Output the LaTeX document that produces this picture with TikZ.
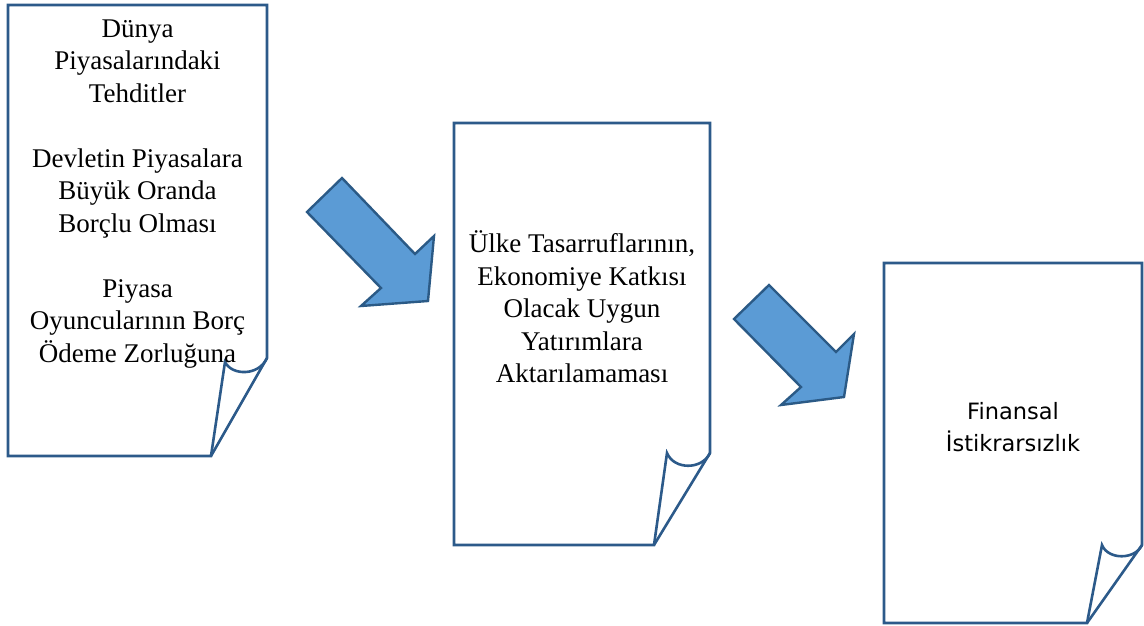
\documentclass[tikz,border=0pt]{standalone}
\usepackage{fontspec}
\setmainfont{Liberation Serif}
\newfontfamily\labelsans{DejaVu Sans}
\definecolor{pageline}{HTML}{2C5A8A}
\definecolor{arrowfill}{HTML}{5B9BD5}
\definecolor{arrowline}{HTML}{2B5A86}
\begin{document}
\begin{tikzpicture}[x=1pt,y=-1pt,
  page/.style={draw=pageline,line width=2.6pt,line join=miter,fill=white},
  blockarrow/.style={draw=arrowline,line width=2.4pt,line join=miter,fill=arrowfill},
  serifbody/.style={align=center,font=\fontsize{27}{32.5}\selectfont},
  sansbody/.style={align=center,font=\labelsans\fontsize{22.5}{32}\selectfont}]
\useasboundingbox (0,0) rectangle (1144,625);

% first sheet with curled lower corner
\draw[page] (8,5) -- (267,5) -- (267,358)
  .. controls (259,376) and (232,376) .. (225,362) -- (211,456) -- (8,456) -- cycle;
\draw[page] (267,358) -- (211,456);

% second sheet
\draw[page] (454,123) -- (710,123) -- (710,453)
  .. controls (702,470) and (674,470) .. (667,453) -- (654,545) -- (454,545) -- cycle;
\draw[page] (710,453) -- (654,545);

% third sheet
\draw[page] (884,263) -- (1142,263) -- (1142,545)
  .. controls (1135,560) and (1108,560) .. (1102,545) -- (1087,623) -- (884,623) -- cycle;
\draw[page] (1142,545) -- (1087,623);

% block arrows between the sheets
\draw[blockarrow] (342,178) -- (307,212) -- (381,288) -- (361,306) -- (428,301)
  -- (434,236) -- (415,254) -- cycle;
\draw[blockarrow] (769,285) -- (734,319) -- (801,387) -- (781,405) -- (844,397)
  -- (854,334) -- (836,352) -- cycle;

% sheet texts
\node[serifbody] (threats) at (137.5,194) {D\"unya\\Piyasalar\i ndaki\\Tehditler\\[32.5pt]
  Devletin Piyasalara\\B\"uy\"uk Oranda\\Bor\c{c}lu Olmas\i\\[32.5pt]
  Piyasa\\Oyuncular\i n\i n Bor\c{c}\\\"Odeme Zorlu\u{g}una};
\node[serifbody] (savings) at (582,307) {\"Ulke Tasarruflar\i n\i n,\\Ekonomiye Katk\i s\i\\
  Olacak Uygun\\Yat\i r\i mlara\\Aktar\i lamamas\i};
\node[sansbody] (instability) at (1013,427) {Finansal\\\.Istikrars\i zl\i k};
\end{tikzpicture}
\end{document}
